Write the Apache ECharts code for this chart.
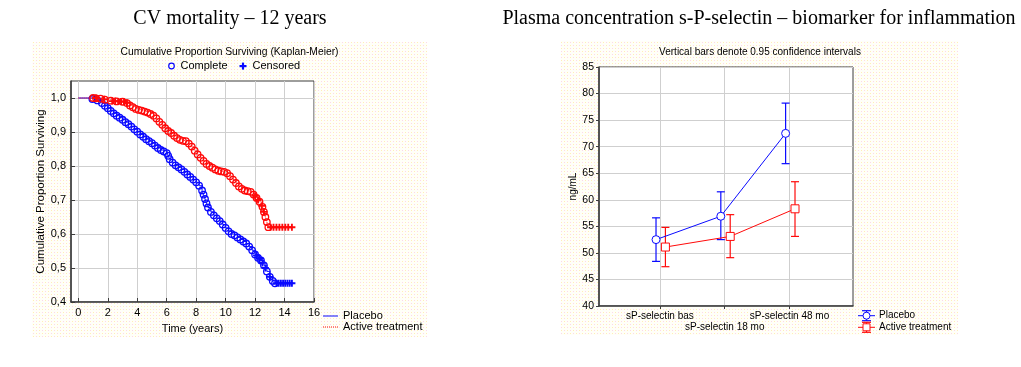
<!DOCTYPE html>
<html><head><meta charset="utf-8">
<script src="https://cdn.jsdelivr.net/npm/echarts@6/dist/echarts.min.js"></script>
<style>html,body{margin:0;padding:0;background:#fff}#c{width:1021px;height:367px}</style>
</head><body><div id="c"></div>
<script>
// ---------- text ----------
const mainTitles = ['CV mortality \u2013 12 years', 'Plasma concentration s-P-selectin \u2013 biomarker for inflammation'];
const kmTitle = 'Cumulative Proportion Surviving (Kaplan-Meier)';
const kmLegendTop = ['Complete', 'Censored'];
const kmGroups = ['Placebo', 'Active treatment'];
const kmXName = 'Time (years)';
const kmYName = 'Cumulative Proportion Surviving';
const kmXTicks = [0, 2, 4, 6, 8, 10, 12, 14, 16];
const kmYTicks = [0.4, 0.5, 0.6, 0.7, 0.8, 0.9, 1.0];

// ---------- Kaplan-Meier: placebo ----------
const placeboEventTime = [0.95,1.3,1.6,1.8,2.0,2.2,2.4,2.6,2.8,3.0,3.2,3.4,3.6,3.8,4.0,4.2,4.4,4.6,4.8,5.0,5.2,5.4,5.6,5.8,6.0,6.1,6.2,6.4,6.6,6.8,7.0,7.2,7.4,7.6,7.8,8.0,8.2,8.4,8.5,8.6,8.7,8.8,9.0,9.2,9.4,9.6,9.8,10.0,10.2,10.4,10.6,10.8,11.0,11.2,11.4,11.6,11.8,12.0,12.2,12.4,12.6,12.8,13.0,13.2,13.35];
const placeboEventSurv = [0.997,0.993,0.985,0.977,0.970,0.962,0.955,0.948,0.942,0.936,0.929,0.923,0.916,0.908,0.901,0.893,0.886,0.879,0.873,0.867,0.860,0.853,0.847,0.843,0.838,0.830,0.820,0.810,0.802,0.796,0.790,0.783,0.775,0.768,0.760,0.752,0.742,0.728,0.716,0.703,0.690,0.678,0.665,0.655,0.646,0.638,0.628,0.618,0.608,0.600,0.596,0.590,0.584,0.578,0.572,0.563,0.552,0.540,0.530,0.522,0.508,0.490,0.474,0.462,0.455];
const placeboCensTime = [12.1,12.3,12.5,12.7,13.0,13.45,13.6,13.75,13.9,14.05,14.2,14.35,14.5];
const placeboCensSurv = [0.537,0.527,0.515,0.500,0.474,0.455,0.455,0.455,0.455,0.455,0.455,0.455,0.455];

// ---------- Kaplan-Meier: active treatment ----------
const activeEventTime = [1.0,1.2,1.5,1.8,2.2,2.6,3.0,3.3,3.5,3.7,3.9,4.1,4.3,4.5,4.7,4.9,5.1,5.3,5.5,5.7,5.9,6.1,6.3,6.5,6.7,6.9,7.1,7.3,7.5,7.7,7.9,8.1,8.3,8.5,8.7,8.9,9.1,9.3,9.5,9.7,9.9,10.1,10.3,10.5,10.7,10.9,11.1,11.3,11.5,11.7,11.9,12.1,12.3,12.5,12.6,12.7,12.8,12.9];
const activeEventSurv = [1.0,0.999,0.998,0.995,0.992,0.990,0.989,0.985,0.978,0.973,0.968,0.965,0.963,0.960,0.957,0.953,0.948,0.940,0.930,0.921,0.911,0.903,0.897,0.889,0.882,0.877,0.874,0.873,0.866,0.857,0.845,0.834,0.824,0.815,0.806,0.800,0.795,0.790,0.786,0.784,0.783,0.779,0.770,0.760,0.750,0.740,0.733,0.728,0.726,0.724,0.716,0.706,0.695,0.680,0.665,0.650,0.635,0.620];
const activeCensTime = [1.2,1.75,2.3,2.5,2.7,2.9,3.1,3.3,12.0,12.2,12.45,12.6,13.05,13.25,13.45,13.65,13.85,14.05,14.25,14.5];
const activeCensSurv = [1.0,0.996,0.991,0.991,0.990,0.990,0.989,0.986,0.712,0.700,0.683,0.665,0.620,0.620,0.620,0.620,0.620,0.620,0.620,0.620];

// ---------- sP-selectin ----------
const selTitle = 'Vertical bars denote 0.95 confidence intervals';
const selYName = 'ng/mL';
const selCategories = ['sP-selectin bas', 'sP-selectin 18 mo', 'sP-selectin 48 mo'];
const selGroups = ['Placebo', 'Active treatment'];
const placeboMean = [52.5, 56.9, 72.5];
const placeboLow  = [48.4, 52.5, 66.8];
const placeboHigh = [56.6, 61.5, 78.2];
const activeMean  = [51.1, 53.1, 58.3];
const activeLow   = [47.4, 49.1, 53.1];
const activeHigh  = [54.8, 57.2, 63.4];

// ---------- styling ----------
const BLUE = '#0a0aff', RED = '#ff0a0a';
const SANS = '"Liberation Sans", Arial, sans-serif';
const SERIF = '"Liberation Serif", "Times New Roman", serif';
const FRAME = '#3c3c3c', GRIDC = '#cfcfcf';
const DODGE_P = -0.06, DODGE_A = 0.085;
const plusPath = 'path://M2.2,0H3.8V2.2H6V3.8H3.8V6H2.2V3.8H0V2.2H2.2Z';

// dotted panel background
const pc = document.createElement('canvas'); pc.width = 6; pc.height = 6;
const g = pc.getContext('2d');
g.fillStyle = '#fffff8'; g.fillRect(0, 0, 6, 6);
g.fillStyle = '#fcd6ec'; g.fillRect(0, 0, 1, 1); g.fillRect(3, 3, 1, 1);
g.fillStyle = '#fff0b4'; g.fillRect(3, 0, 1, 1); g.fillRect(0, 3, 1, 1);
const panelFill = { image: pc, repeat: 'repeat' };

const pairs = (xs, ys) => xs.map((x, i) => [x, ys[i]]);
const kmLine = (et, es, ct, cs) => [[0, 1.0]].concat(pairs(et, es), [[ct[ct.length - 1], cs[cs.length - 1]]]);
const comma = v => Number(v).toFixed(1).replace('.', ',');
const catIdx = selCategories.map((c, i) => i);
const rowA = catIdx.filter(i => i % 2 === 0), rowB = catIdx.filter(i => i % 2 === 1);
const catName = v => selCategories[Math.round(v)];

function errRender(color) {
  return function (params, api) {
    const x = api.value(0), lo = api.value(1), hi = api.value(2);
    const p1 = api.coord([x, hi]), p2 = api.coord([x, lo]);
    const w = 4, st = { stroke: color, lineWidth: 1.2 };
    return { type: 'group', children: [
      { type: 'line', shape: { x1: p1[0], y1: p1[1], x2: p2[0], y2: p2[1] }, style: st },
      { type: 'line', shape: { x1: p1[0] - w, y1: p1[1], x2: p1[0] + w, y2: p1[1] }, style: st },
      { type: 'line', shape: { x1: p2[0] - w, y1: p2[1], x2: p2[0] + w, y2: p2[1] }, style: st }
    ]};
  };
}

const txt = (x, y, text, size, extra) => ({
  type: 'text', x: x, y: y, z: 10,
  style: Object.assign({ text: text, fontFamily: SANS, fontSize: size, fill: '#000', verticalAlign: 'middle', textAlign: 'left' }, extra || {})
});

const chart = echarts.init(document.getElementById('c'), null, { renderer: 'canvas' });
chart.setOption({
  animation: false,
  backgroundColor: '#fff',
  title: [
    { text: mainTitles[0], left: 230, top: 9, padding: 0, textAlign: 'center', textStyle: { fontFamily: SERIF, fontSize: 20, fontWeight: 'normal', color: '#000' } },
    { text: mainTitles[1], left: 759, top: 9, padding: 0, textAlign: 'center', textStyle: { fontFamily: SERIF, fontSize: 20, fontWeight: 'normal', color: '#000' } }
  ],
  grid: [
    { left: 71, top: 81, width: 243, height: 221, show: true, backgroundColor: '#fff', borderColor: FRAME, borderWidth: 1, containLabel: false },
    { left: 599, top: 67, width: 254, height: 239, show: true, backgroundColor: '#fff', borderColor: FRAME, borderWidth: 1, containLabel: false }
  ],
  xAxis: [
    { type: 'value', gridIndex: 0, min: -0.5, max: 16,
      name: kmXName, nameLocation: 'middle', nameGap: 21, nameTextStyle: { fontFamily: SANS, fontSize: 11, color: '#000' },
      axisLine: { show: true, onZero: false, lineStyle: { color: FRAME, width: 1.5 } },
      axisTick: { show: true, inside: true, length: 4, customValues: kmXTicks, lineStyle: { color: FRAME } },
      axisLabel: { customValues: kmXTicks, margin: 5, fontFamily: SANS, fontSize: 11, color: '#000', showMinLabel: true, showMaxLabel: true },
      splitLine: { show: true, lineStyle: { color: GRIDC, width: 1 } } },
    { type: 'value', gridIndex: 1, min: -0.94, max: 2.98,
      axisLine: { show: true, onZero: false, lineStyle: { color: FRAME, width: 1.5 } },
      axisTick: { show: true, inside: false, length: 3, customValues: catIdx, lineStyle: { color: FRAME } },
      axisLabel: { customValues: rowA, margin: 5, fontFamily: SANS, fontSize: 10, color: '#000',
        showMinLabel: true, showMaxLabel: true, formatter: catName },
      splitLine: { show: true, lineStyle: { color: GRIDC, width: 1 } } },
    { type: 'value', gridIndex: 1, min: -0.94, max: 2.98, position: 'bottom',
      axisLine: { show: false, onZero: false }, axisTick: { show: false }, splitLine: { show: false },
      axisLabel: { customValues: rowB, margin: 16, fontFamily: SANS, fontSize: 10, color: '#000',
        showMinLabel: true, showMaxLabel: true, formatter: catName } }
  ],
  yAxis: [
    { type: 'value', gridIndex: 0, min: 0.4, max: 1.05,
      name: kmYName, nameLocation: 'middle', nameGap: 24, nameRotate: 90, nameTextStyle: { fontFamily: SANS, fontSize: 11.5, color: '#000' },
      axisLine: { show: true, onZero: false, lineStyle: { color: FRAME, width: 1.5 } },
      axisTick: { show: true, inside: true, length: 4, customValues: kmYTicks, lineStyle: { color: FRAME } },
      axisLabel: { customValues: kmYTicks, margin: 5, fontFamily: SANS, fontSize: 11, color: '#000', formatter: comma, showMinLabel: true, showMaxLabel: true },
      splitLine: { show: true, lineStyle: { color: GRIDC, width: 1 } } },
    { type: 'value', gridIndex: 1, min: 40, max: 85, interval: 5,
      name: selYName, nameLocation: 'middle', nameGap: 21, nameRotate: 90, nameTextStyle: { fontFamily: SANS, fontSize: 10, color: '#000' },
      axisLine: { show: true, onZero: false, lineStyle: { color: FRAME, width: 1.5 } },
      axisTick: { show: true, inside: false, length: 3, lineStyle: { color: FRAME } },
      axisLabel: { margin: 5, fontFamily: SANS, fontSize: 10.5, color: '#000', showMinLabel: true, showMaxLabel: true },
      splitLine: { show: true, lineStyle: { color: GRIDC, width: 1 } } }
  ],
  series: [
    // Kaplan-Meier placebo
    { type: 'line', xAxisIndex: 0, yAxisIndex: 0, step: 'end', showSymbol: false, z: 2,
      data: kmLine(placeboEventTime, placeboEventSurv, placeboCensTime, placeboCensSurv),
      lineStyle: { color: BLUE, width: 1 } },
    { type: 'scatter', xAxisIndex: 0, yAxisIndex: 0, symbol: 'circle', symbolSize: 6.5, z: 3,
      data: pairs(placeboEventTime, placeboEventSurv),
      itemStyle: { color: 'rgba(0,0,0,0)', borderColor: BLUE, borderWidth: 1.3, opacity: 1 } },
    { type: 'scatter', xAxisIndex: 0, yAxisIndex: 0, symbol: plusPath, symbolSize: 7, z: 3,
      data: pairs(placeboCensTime, placeboCensSurv), itemStyle: { color: BLUE, opacity: 1 } },
    // Kaplan-Meier active
    { type: 'line', xAxisIndex: 0, yAxisIndex: 0, step: 'end', showSymbol: false, z: 4,
      data: kmLine(activeEventTime, activeEventSurv, activeCensTime, activeCensSurv),
      lineStyle: { color: RED, width: 1, type: [1, 1] } },
    { type: 'scatter', xAxisIndex: 0, yAxisIndex: 0, symbol: 'circle', symbolSize: 6.5, z: 5,
      data: pairs(activeEventTime, activeEventSurv),
      itemStyle: { color: 'rgba(0,0,0,0)', borderColor: RED, borderWidth: 1.3, opacity: 1 } },
    { type: 'scatter', xAxisIndex: 0, yAxisIndex: 0, symbol: plusPath, symbolSize: 7, z: 5,
      data: pairs(activeCensTime, activeCensSurv), itemStyle: { color: RED, opacity: 1 } },
    // sP-selectin error bars
    { type: 'custom', xAxisIndex: 1, yAxisIndex: 1, renderItem: errRender(BLUE), z: 3,
      encode: { x: 0, y: [1, 2] }, data: placeboLow.map((l, i) => [i + DODGE_P, l, placeboHigh[i]]) },
    { type: 'custom', xAxisIndex: 1, yAxisIndex: 1, renderItem: errRender(RED), z: 3,
      encode: { x: 0, y: [1, 2] }, data: activeLow.map((l, i) => [i + DODGE_A, l, activeHigh[i]]) },
    // sP-selectin means
    { type: 'line', xAxisIndex: 1, yAxisIndex: 1, name: selGroups[0], symbol: 'circle', symbolSize: 8, z: 5,
      data: placeboMean.map((m, i) => [i + DODGE_P, m]),
      lineStyle: { color: BLUE, width: 1 }, itemStyle: { color: '#fff', borderColor: BLUE, borderWidth: 1 } },
    { type: 'line', xAxisIndex: 1, yAxisIndex: 1, name: selGroups[1], symbol: 'rect', symbolSize: 8, z: 5,
      data: activeMean.map((m, i) => [i + DODGE_A, m]),
      lineStyle: { color: RED, width: 1 }, itemStyle: { color: '#fff', borderColor: RED, borderWidth: 1 } }
  ],
  graphic: { elements: [
    { type: 'rect', z: -100, shape: { x: 32, y: 42, width: 395, height: 295 }, style: { fill: panelFill } },
    { type: 'rect', z: -100, shape: { x: 561, y: 41, width: 397, height: 294 }, style: { fill: panelFill } },
    // KM titles & legends
    txt(229.5, 52.5, kmTitle, 10.3, { textAlign: 'center' }),
    { type: 'circle', z: 10, shape: { cx: 171.5, cy: 66, r: 2.8 }, style: { fill: 'none', stroke: BLUE, lineWidth: 1.2 } },
    txt(180.5, 66, kmLegendTop[0], 11),
    { type: 'rect', z: 10, shape: { x: 239.5, y: 65, width: 7, height: 2.2 }, style: { fill: BLUE } },
    { type: 'rect', z: 10, shape: { x: 241.9, y: 62.6, width: 2.2, height: 7 }, style: { fill: BLUE } },
    txt(252.5, 66, kmLegendTop[1], 11),
    { type: 'line', z: 10, shape: { x1: 323, y1: 316, x2: 338, y2: 316 }, style: { stroke: BLUE, lineWidth: 1 } },
    { type: 'line', z: 10, shape: { x1: 323, y1: 327, x2: 338, y2: 327 }, style: { stroke: RED, lineWidth: 1, lineDash: [1, 1] } },
    txt(343, 316, kmGroups[0], 11),
    txt(343, 327, kmGroups[1], 11),
    // sP-selectin title & legend
    txt(760, 52.5, selTitle, 10, { textAlign: 'center' }),
    { type: 'line', z: 10, shape: { x1: 858, y1: 315.7, x2: 875, y2: 315.7 }, style: { stroke: BLUE, lineWidth: 1 } },
    { type: 'line', z: 10, shape: { x1: 866.5, y1: 310.7, x2: 866.5, y2: 320.7 }, style: { stroke: BLUE, lineWidth: 1.2 } },
    { type: 'line', z: 10, shape: { x1: 862, y1: 310.7, x2: 871, y2: 310.7 }, style: { stroke: BLUE, lineWidth: 1.2 } },
    { type: 'line', z: 10, shape: { x1: 862, y1: 320.7, x2: 871, y2: 320.7 }, style: { stroke: BLUE, lineWidth: 1.2 } },
    { type: 'circle', z: 11, shape: { cx: 866.5, cy: 315.7, r: 3.5 }, style: { fill: '#fff', stroke: BLUE, lineWidth: 1 } },
    { type: 'line', z: 10, shape: { x1: 858, y1: 327.3, x2: 875, y2: 327.3 }, style: { stroke: RED, lineWidth: 1 } },
    { type: 'line', z: 10, shape: { x1: 866.5, y1: 322.3, x2: 866.5, y2: 332.3 }, style: { stroke: RED, lineWidth: 1.2 } },
    { type: 'line', z: 10, shape: { x1: 862, y1: 322.3, x2: 871, y2: 322.3 }, style: { stroke: RED, lineWidth: 1.2 } },
    { type: 'line', z: 10, shape: { x1: 862, y1: 332.3, x2: 871, y2: 332.3 }, style: { stroke: RED, lineWidth: 1.2 } },
    { type: 'rect', z: 11, shape: { x: 863, y: 323.8, width: 7, height: 7 }, style: { fill: '#fff', stroke: RED, lineWidth: 1 } },
    txt(879, 315.7, selGroups[0], 10),
    txt(879, 327.3, selGroups[1], 10)
  ]}
});
</script>
</body></html>
